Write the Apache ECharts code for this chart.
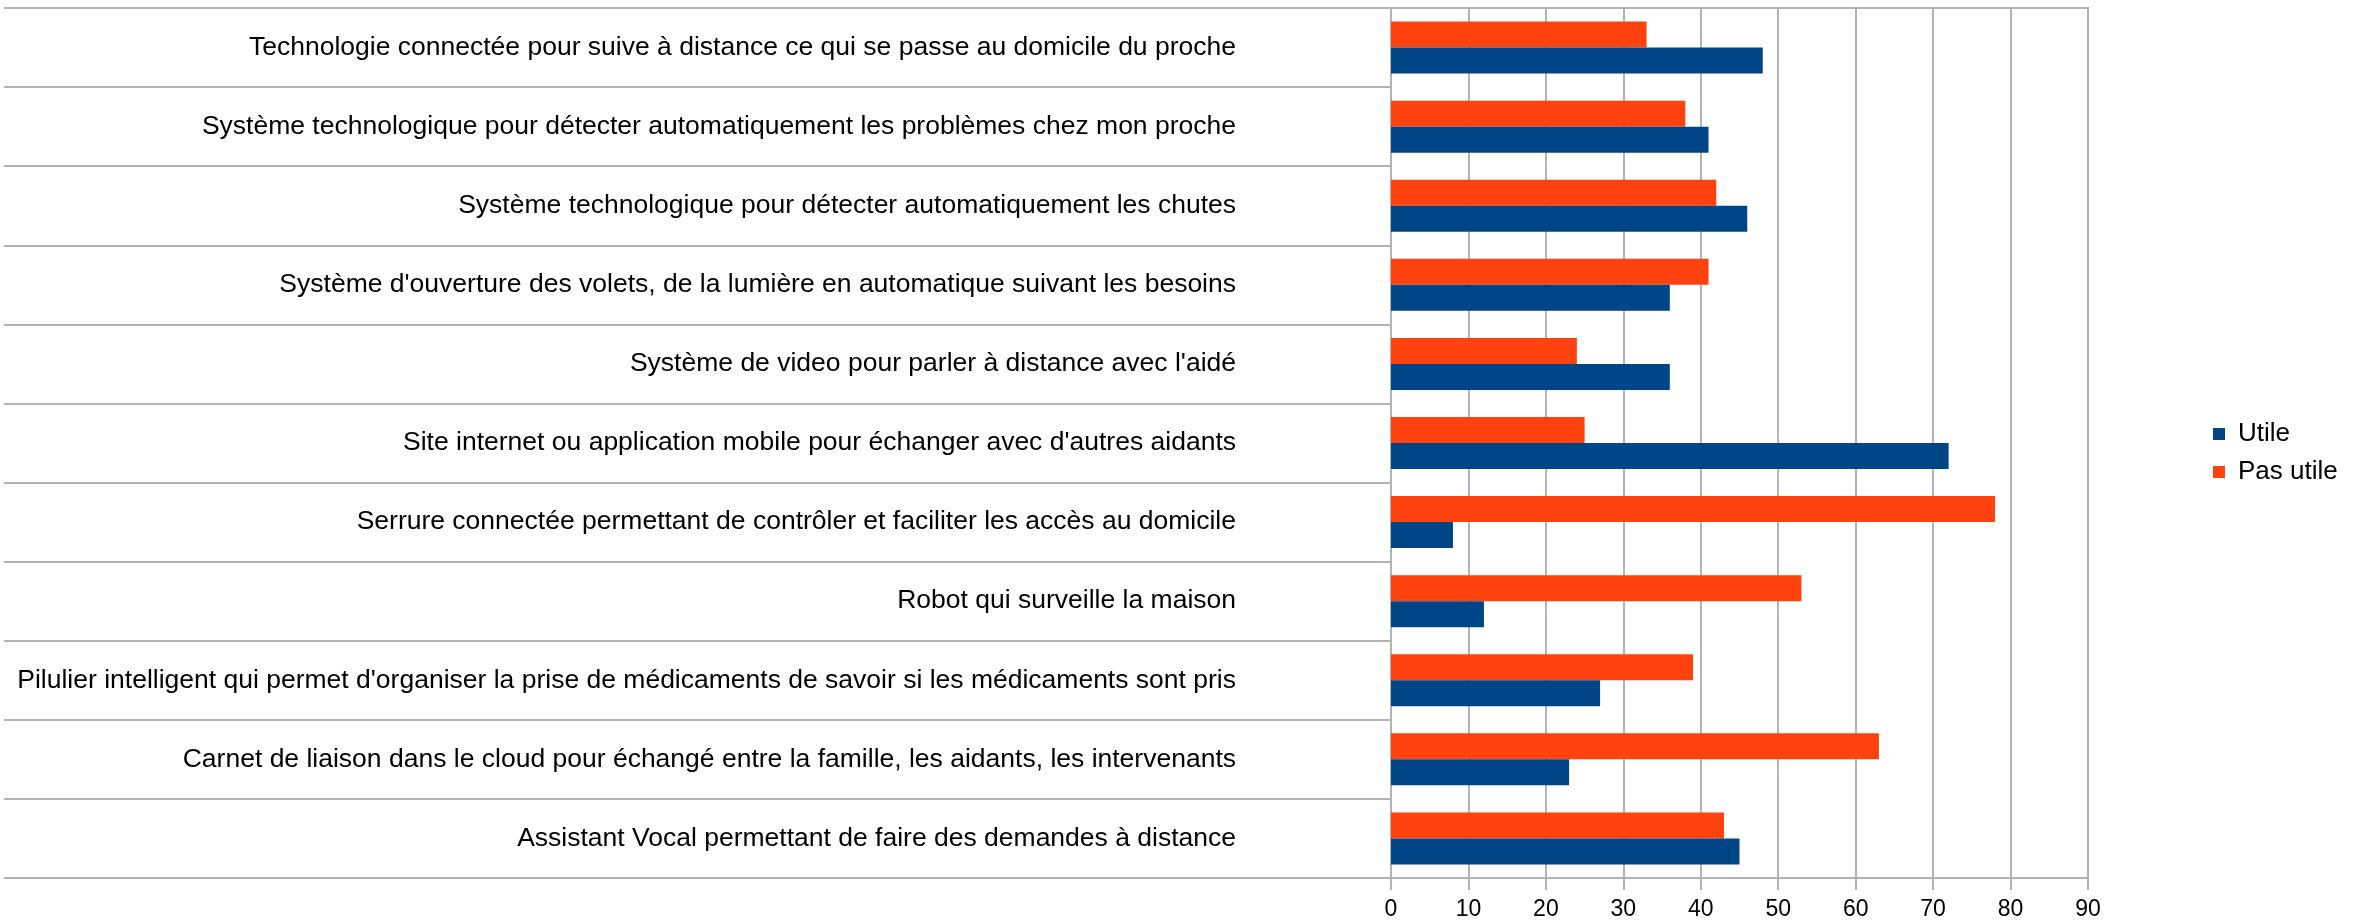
<!DOCTYPE html>
<html>
<head>
<meta charset="utf-8">
<script src="https://cdn.jsdelivr.net/npm/echarts@6/dist/echarts.min.js"></script>
<style>
html,body{margin:0;padding:0;background:#fff;}
#chart{width:2358px;height:923px;}
</style>
</head>
<body>
<div id="chart"></div>
<script>
// Categories listed bottom to top (as drawn on the category axis)
const categories = [
  "Assistant Vocal permettant de faire des demandes à distance",
  "Carnet de liaison dans le cloud pour échangé entre la famille, les aidants, les intervenants",
  "Pilulier intelligent qui permet d'organiser la prise de médicaments de savoir si les médicaments sont pris",
  "Robot qui surveille la maison",
  "Serrure connectée permettant de contrôler et faciliter les accès au domicile",
  "Site internet ou application mobile pour échanger avec d'autres aidants",
  "Système de video pour parler à distance avec l'aidé",
  "Système d'ouverture des volets, de la lumière en automatique suivant les besoins",
  "Système technologique pour détecter automatiquement les chutes",
  "Système technologique pour détecter automatiquement les problèmes chez mon proche",
  "Technologie connectée pour suive à distance ce qui se passe au domicile du proche"
];
const utile    = [45, 23, 27, 12,  8, 72, 36, 36, 46, 41, 48];
const pasUtile = [43, 63, 39, 53, 78, 25, 24, 41, 42, 38, 33];
const seriesNames = ["Utile", "Pas utile"];
const xTicks = [0, 10, 20, 30, 40, 50, 60, 70, 80, 90];

const BLUE = '#004586', ORANGE = '#ff420e';
const chart = echarts.init(document.getElementById('chart'));
const font = 'Liberation Sans';
chart.setOption({
  animation: false,
  backgroundColor: '#ffffff',
  legend: {
    orient: 'vertical',
    left: 2208,
    top: 416,
    itemWidth: 12,
    itemHeight: 12,
    itemGap: 12,
    icon: 'rect',
    data: seriesNames,
    textStyle: { fontFamily: font, fontSize: 26, color: '#000', padding: [0,0,0,8] }
  },
  grid: {
    left: 1391, right: 270, top: 8, bottom: 45,
    show: true, borderColor: '#b3b3b3', borderWidth: 2,
    containLabel: false, outerBoundsMode: 'none'
  },
  xAxis: {
    type: 'value',
    min: xTicks[0], max: xTicks[xTicks.length - 1], interval: 10,
    axisLine: { show: true, lineStyle: { color: '#b3b3b3', width: 2 } },
    axisTick: { show: true, length: 12, lineStyle: { color: '#b3b3b3', width: 2 } },
    splitLine: { show: true, lineStyle: { color: '#b3b3b3', width: 2 } },
    axisLabel: { fontFamily: font, fontSize: 23, color: '#000', margin: 20 }
  },
  yAxis: {
    type: 'category',
    data: categories,
    axisLine: { show: true, lineStyle: { color: '#b3b3b3', width: 2 } },
    axisTick: { show: true, length: 1387, lineStyle: { color: '#b3b3b3', width: 2 } },
    splitLine: { show: false },
    axisLabel: { fontFamily: font, fontSize: 26.5, color: '#000', margin: 155 }
  },
  series: [
    { name: seriesNames[1], type: 'bar', data: pasUtile, barWidth: 26, barGap: '0%', itemStyle: { color: ORANGE } },
    { name: seriesNames[0], type: 'bar', data: utile, barWidth: 26, barGap: '0%', itemStyle: { color: BLUE } }
  ]
});
</script>
</body>
</html>
